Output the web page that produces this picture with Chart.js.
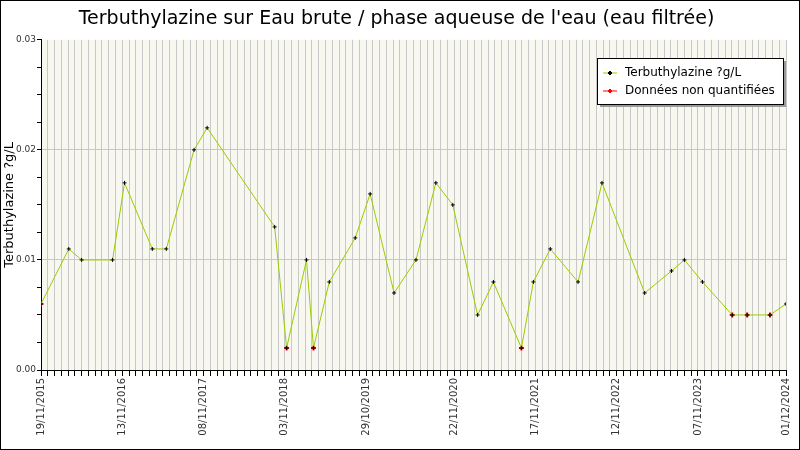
<!DOCTYPE html>
<html lang="fr">
<head>
<meta charset="UTF-8">
<title>Terbuthylazine</title>
<script src="https://cdn.jsdelivr.net/npm/chart.js"></script>
<style>
  body { margin: 0; background: #fff; }
</style>
</head>
<body>
<canvas id="c" width="800" height="450"></canvas>
<script>
// sample dates and measured values
var dates = ['2015-11-19','2016-03-21','2016-05-17','2016-10-01','2016-11-23','2017-03-26','2017-05-27',
  '2017-09-27','2017-11-24','2018-09-19','2018-11-11','2019-02-07','2019-03-10','2019-05-19','2019-09-11',
  '2019-11-16','2020-03-01','2020-06-06','2020-09-02','2020-11-16','2021-03-06','2021-05-15','2021-09-16',
  '2021-11-08','2022-01-22','2022-05-25','2022-09-08','2023-03-16','2023-07-13','2023-09-08','2023-11-27',
  '2024-04-07','2024-06-12','2024-09-21','2024-12-01'];
var values = [0.006,0.011,0.010,0.010,0.017,0.011,0.011,0.020,0.022,0.013,0.002,0.010,0.002,0.008,0.012,
  0.016,0.007,0.010,0.017,0.015,0.005,0.008,0.002,0.008,0.011,0.008,0.017,0.007,0.009,0.010,0.008,
  0.005,0.005,0.005,0.006];
// indexes of non-quantified samples
var nonQuantified = [0, 10, 12, 22, 31, 32, 33];
var tickDates = ['2015-11-19','2016-11-13','2017-11-08','2018-11-03','2019-10-29','2020-11-22',
  '2021-11-17','2022-11-12','2023-11-07','2024-12-01'];
var tickLabels = ['19/11/2015','13/11/2016','08/11/2017','03/11/2018','29/10/2019','22/11/2020',
  '17/11/2021','12/11/2022','07/11/2023','01/12/2024'];

var t0 = Date.parse(dates[0]);
function day(d) { return Math.round((Date.parse(d) - t0) / 86400000); }
var lastDay = day(tickDates[tickDates.length - 1]);
var labelByDay = {};
tickDates.forEach(function (d, i) { labelByDay[day(d)] = tickLabels[i]; });

var mainPts = dates.map(function (d, i) { return { x: day(d), y: values[i] }; });
var nqPts = nonQuantified.map(function (i) { return mainPts[i]; });

var legendBox = {
  id: 'legendBox',
  afterDraw: function (chart) {
    var ctx = chart.ctx, x = 597, y = 58, w = 186, h = 46;
    ctx.save();
    ctx.fillStyle = '#999';
    ctx.fillRect(x + 3, y + 3, w, h);
    ctx.fillStyle = '#fff';
    ctx.fillRect(x, y, w, h);
    ctx.strokeStyle = '#000'; ctx.lineWidth = 1;
    ctx.strokeRect(x + 0.5, y + 0.5, w, h);
    ctx.font = '12px "DejaVu Sans"';
    ctx.textBaseline = 'middle';
    var items = [['Terbuthylazine ?g/L', '#000'], ['Données non quantifiées', '#f00']];
    items.forEach(function (it, i) {
      var cy = y + 15 + i * 18;
      ctx.strokeStyle = i === 0 ? '#99cc00' : '#f00';
      ctx.beginPath(); ctx.moveTo(x + 6, cy); ctx.lineTo(x + 20, cy); ctx.stroke();
      ctx.strokeStyle = it[1]; ctx.lineWidth = 2;
      ctx.beginPath(); ctx.moveTo(x + 11, cy); ctx.lineTo(x + 15, cy);
      ctx.moveTo(x + 13, cy - 2); ctx.lineTo(x + 13, cy + 2); ctx.stroke();
      ctx.lineWidth = 1;
      ctx.fillStyle = '#000';
      ctx.fillText(it[0], x + 28, cy);
    });
    // outer frame
    ctx.strokeStyle = '#000';
    ctx.strokeRect(0.5, 0.5, chart.width - 1, chart.height - 1);
    ctx.restore();
  }
};

var plotBg = {
  id: 'plotBg',
  beforeDraw: function (chart) {
    var a = chart.chartArea, ctx = chart.ctx;
    ctx.save();
    ctx.fillStyle = '#fff';
    ctx.fillRect(0, 0, chart.width, chart.height);
    ctx.fillStyle = '#f8f8f0';
    ctx.fillRect(a.left, a.top, a.right - a.left, a.bottom - a.top);
    ctx.restore();
  }
};

new Chart(document.getElementById('c'), {
  type: 'scatter',
  data: {
    datasets: [{
      label: 'Terbuthylazine ?g/L',
      data: mainPts,
      showLine: true,
      borderColor: '#99cc00',
      borderWidth: 1,
      pointStyle: 'cross',
      pointRadius: 2,
      pointBorderWidth: 1,
      pointBorderColor: '#000',
      pointBackgroundColor: '#000'
    }, {
      label: 'Données non quantifiées',
      data: nqPts,
      showLine: false,
      pointStyle: 'cross',
      pointRadius: 2.5,
      pointBorderWidth: 2,
      pointBorderColor: '#f00'
    }]
  },
  options: {
    responsive: false,
    animation: false,
    layout: { padding: { left: 2, right: 9, top: 0, bottom: 0 } },
    plugins: {
      legend: { display: false },
      tooltip: { enabled: false },
      title: {
        display: true,
        text: "Terbuthylazine sur Eau brute / phase aqueuse de l'eau (eau filtrée)",
        font: { family: 'DejaVu Sans', size: 19, weight: 'normal' },
        color: '#000',
        padding: { top: 8, bottom: 9 }
      }
    },
    scales: {
      x: {
        type: 'linear',
        min: 0,
        max: lastDay,
        afterBuildTicks: function (axis) {
          var t = [];
          for (var v = 0; v <= lastDay; v += 30) t.push({ value: v });
          if (t[t.length - 1].value !== lastDay) t.push({ value: lastDay });
          axis.ticks = t;
        },
        afterFit: function (axis) { axis.height = 80; },
        ticks: {
          autoSkip: false,
          maxRotation: 90,
          minRotation: 90,
          color: '#333',
          font: { family: 'DejaVu Sans', size: 10 },
          padding: 2,
          callback: function (v) { return labelByDay[v] || ''; }
        },
        grid: { color: '#c8c8c8', tickColor: '#000', tickLength: 6 },
        border: { color: '#000' }
      },
      y: {
        min: 0,
        max: 0.03,
        afterBuildTicks: function (axis) {
          var t = [];
          for (var i = 0; i <= 12; i++) t.push({ value: i * 0.0025 });
          axis.ticks = t;
        },
        afterFit: function (axis) { axis.width = 39; },
        title: {
          display: true,
          text: 'Terbuthylazine ?g/L',
          font: { family: 'DejaVu Sans', size: 13 },
          color: '#000',
          padding: 0
        },
        ticks: {
          autoSkip: false,
          color: '#333',
          font: { family: 'DejaVu Sans', size: 9 },
          padding: 1,
          callback: function (v) {
            var k = Math.round(v / 0.0025);
            return k % 4 === 0 ? v.toFixed(2) : '';
          }
        },
        grid: {
          color: function (c) { return c.index % 4 === 0 && c.index > 0 && c.index < 12 ? '#c8c8c8' : 'rgba(0,0,0,0)'; },
          tickColor: '#000',
          tickLength: 4
        },
        border: { color: '#000' }
      }
    }
  },
  plugins: [plotBg, legendBox]
});
</script>
</body>
</html>
